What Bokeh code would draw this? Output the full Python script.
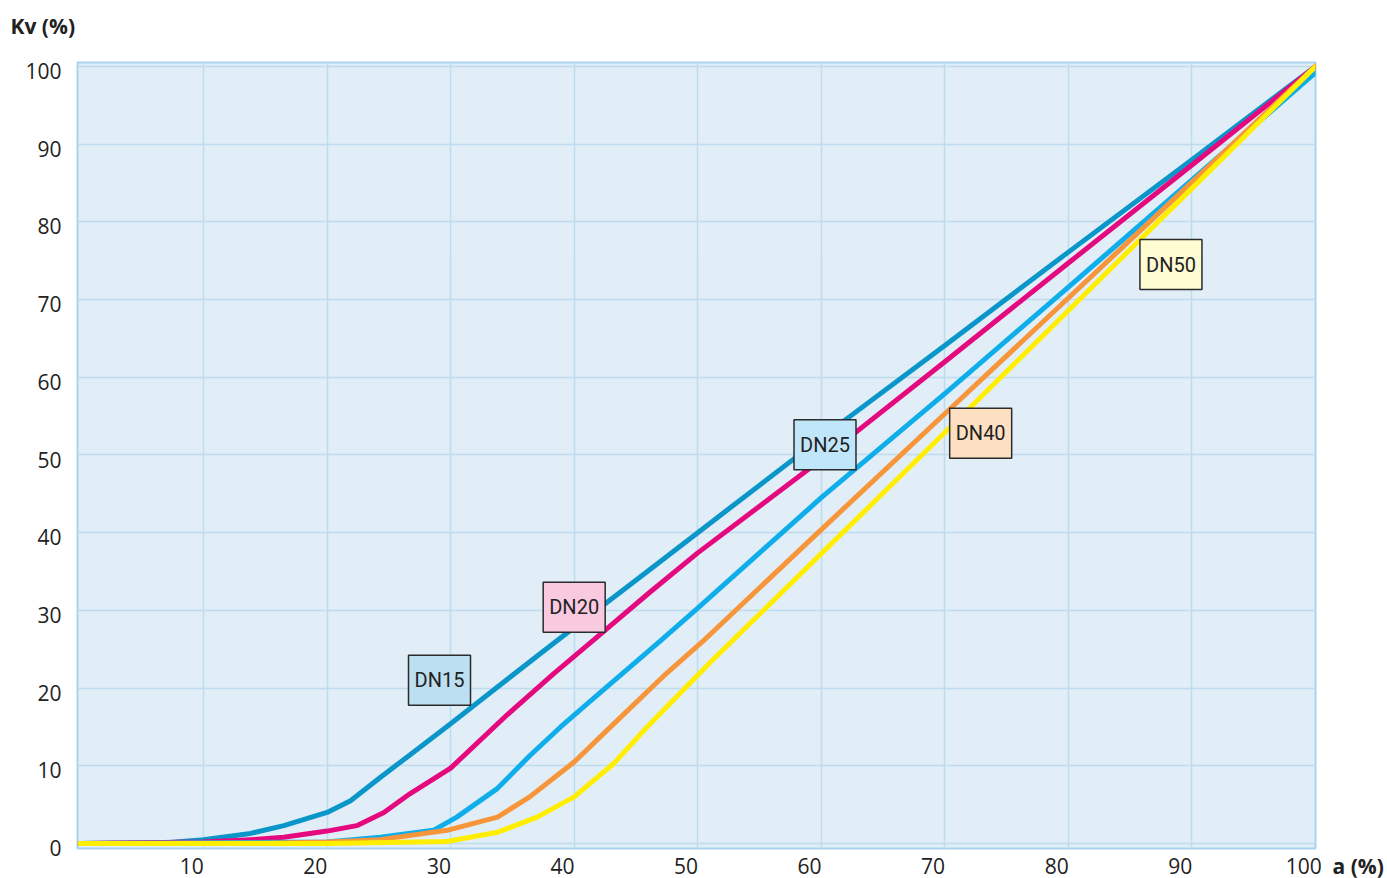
from bokeh.plotting import figure
from bokeh.models import Range1d, FixedTicker, Label, LinearAxis
from bokeh.core.properties import value
from bokeh.embed import file_html
from bokeh.resources import INLINE

# ---- data ----
dn15_a = [0, 7, 10, 13.8, 16.5, 20, 21.9, 24.3, 26.7, 30, 34, 38.6, 46, 50, 60, 70, 80, 90, 100]
dn15_kv = [0, 0.1, 0.5, 1.3, 2.3, 4.0, 5.5, 8.5, 11.4, 15.4, 20.4, 26.1, 35.1, 40.0, 52.2, 64.1, 76.1, 88.0, 100]

dn20_a = [0, 10, 13.8, 16.5, 20, 22.4, 24.6, 26.7, 30, 34.6, 38.3, 41.8, 46.1, 50, 60, 70, 80, 90, 100]
dn20_kv = [0, 0.2, 0.5, 0.8, 1.6, 2.3, 4.0, 6.4, 9.7, 16.6, 21.8, 26.5, 32.3, 37.4, 49.4, 62.0, 74.7, 87.3, 100]

dn25_a = [0, 20, 24.3, 28.6, 30.5, 33.8, 36.4, 38.9, 41, 47, 50, 60, 70, 80, 90, 100]
dn25_kv = [0, 0.2, 0.8, 1.7, 3.4, 7.1, 11.3, 15.0, 17.9, 26.1, 30.3, 44.5, 57.9, 71.6, 85.4, 99.2]

dn40_a = [0, 15, 20, 24.3, 29.7, 33.8, 36.4, 40, 43.2, 47.2, 50.4, 60, 70, 80, 90, 100]
dn40_kv = [0, 0.05, 0.2, 0.5, 1.7, 3.4, 6.0, 10.5, 15.4, 21.5, 26.0, 40.4, 55.3, 70.2, 85.1, 100]

dn50_a = [0, 20, 29.7, 33.8, 37, 40, 43.2, 45.9, 51, 60, 70, 80, 90, 100]
dn50_kv = [0, 0.0, 0.26, 1.45, 3.4, 6.0, 10.3, 15.0, 23.3, 37.3, 52.9, 68.6, 84.3, 100]

series_names = ["DN15", "DN20", "DN25", "DN40", "DN50"]
x_ticks = [10, 20, 30, 40, 50, 60, 70, 80, 90, 100]
y_ticks = [0, 10, 20, 30, 40, 50, 60, 70, 80, 90, 100]
x_title = "a (%)"
y_title = "Kv (%)"

# label anchor points (data coords)
label_x = [29.1, 40.0, 60.3, 72.9, 88.3]
label_y = [21.0, 30.4, 51.3, 52.8, 74.5]

# ---- styles ----
line_colors = ["#0b96c9", "#e5097f", "#0faeea", "#f6953a", "#ffee00"]
box_colors = ["#bcdff1", "#f9c9df", "#c0e6f9", "#fddfc2", "#fffbd3"]

TICK_FONT = "Open Sans"
BOX_FONT = "Roboto"
X0, X1 = -0.2, 100.0
Y0, Y1 = -0.64, 100.5

p = figure(width=1387, height=878, output_backend="svg", toolbar_location=None,
           title=None, x_range=Range1d(X0, X1), y_range=Range1d(Y0, Y1),
           min_border_left=77, min_border_right=72, min_border_top=62, min_border_bottom=30)

p.background_fill_color = "#e1eef8"
p.border_fill_color = "white"
p.outline_line_color = "#a9d3ec"
p.outline_line_width = 2

p.xgrid.ticker = FixedTicker(ticks=x_ticks)
p.ygrid.ticker = FixedTicker(ticks=y_ticks)
for g in (p.xgrid, p.ygrid):
    g.grid_line_color = "#bfdcef"
    g.grid_line_width = 1.5

# label axes on slightly shifted ranges, so labels sit beside their grid lines
p.xaxis.visible = False
p.yaxis.visible = False
xshift = 0.95
yshift = 0.6
p.extra_x_ranges = {"xlab": Range1d(X0 + xshift, X1 + xshift)}
p.extra_y_ranges = {"ylab": Range1d(Y0 + yshift, Y1 + yshift)}
xlab = LinearAxis(x_range_name="xlab", ticker=FixedTicker(ticks=x_ticks))
ylab = LinearAxis(y_range_name="ylab", ticker=FixedTicker(ticks=y_ticks))
p.add_layout(xlab, "below")
p.add_layout(ylab, "left")

for ax in (xlab, ylab):
    ax.axis_line_color = None
    ax.major_tick_line_color = None
    ax.minor_tick_line_color = None
    ax.major_label_text_font = TICK_FONT
    ax.major_label_text_font_size = "21px"
    ax.major_label_text_color = "#222222"
xlab.major_label_standoff = 3
ylab.major_label_standoff = 10

all_a = [dn15_a, dn20_a, dn25_a, dn40_a, dn50_a]
all_kv = [dn15_kv, dn20_kv, dn25_kv, dn40_kv, dn50_kv]
for a, kv, c in zip(all_a, all_kv, line_colors):
    p.line(a, kv, line_color=c, line_width=5, line_join="round", line_cap="round")

p.rect(label_x, label_y, width=62, height=50, width_units="screen", height_units="screen",
       fill_color=box_colors, line_color="#2b2b2b", line_width=1.5)
p.text(label_x, label_y, text=series_names, text_align="center", text_baseline="middle",
       text_font=value(BOX_FONT), text_font_size="20px", text_color="#222222")

# axis titles: labels living in side panels (not clipped to the frame)
p.add_layout(Label(x=-67, y=37, x_units="screen", y_units="screen", text=y_title,
                   text_font=TICK_FONT, text_font_size="21px", text_font_style="bold",
                   text_color="#222222", text_baseline="middle"), "above")
p.add_layout(Label(x=17, y=-17, x_units="screen", y_units="screen", text=x_title,
                   text_font=TICK_FONT, text_font_size="21px", text_font_style="bold",
                   text_color="#222222", text_baseline="middle"), "right")

open("out.html", "w").write(file_html(p, INLINE))
